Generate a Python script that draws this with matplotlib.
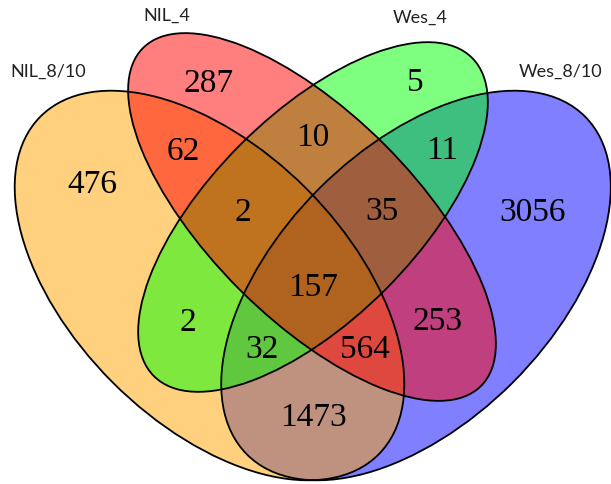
import matplotlib
matplotlib.use("Agg")
import matplotlib.pyplot as plt
from matplotlib.patches import Ellipse

# Set names and colours
set_names = ["NIL_8/10", "NIL_4", "Wes_4", "Wes_8/10"]
set_colors = ["#FFA500", "#FF0000", "#00FF00", "#0000FF"]

# Region codes: which sets (in set_names order) a region belongs to
region_codes = ["1000", "0100", "0010", "0001",
                "1100", "0110", "0011", "0101", "1010", "1001",
                "1110", "0111", "1011", "1101", "1111"]
region_counts = [476, 287, 5, 3056,
                 62, 10, 11, 253, 2, 1473,
                 2, 35, 32, 564, 157]

# ---- layout (pixel space of a 611 x 484 canvas) ----
W, H = 611, 484
# (centre x, centre y, semi-major, semi-minor, angle) per set
shapes = {
    "NIL_8/10": (209.5, 285.5, 239, 137, 45),
    "NIL_4":    (312.0, 217.0, 239, 102.5, 45),
    "Wes_4":    (313.0, 217.0, 225, 102.5, -45),
    "Wes_8/10": (416.0, 285.5, 239, 137, -45),
}
fill_order = ["Wes_8/10", "NIL_8/10", "Wes_4", "NIL_4"]

count_pos = {
    "1000": (92, 185), "0100": (209, 84), "0010": (415, 83), "0001": (533, 213),
    "1100": (183, 152), "0110": (313, 138), "0011": (442, 151), "0101": (437, 322),
    "1010": (188, 323), "1001": (313, 418),
    "1110": (243, 213), "0111": (382, 212), "1011": (262, 350), "1101": (365, 350),
    "1111": (313, 288),
}
name_pos = {
    "NIL_8/10": (48, 72), "NIL_4": (167, 16), "Wes_4": (420, 18), "Wes_8/10": (561, 72),
}

fig = plt.figure(figsize=(W / 100, H / 100), dpi=100)
ax = fig.add_axes([0, 0, 1, 1])
ax.set_xlim(0, W)
ax.set_ylim(H, 0)
ax.axis("off")

color_of = dict(zip(set_names, set_colors))

# translucent fills
for name in fill_order:
    cx, cy, a, b, ang = shapes[name]
    ax.add_patch(Ellipse((cx, cy), 2 * a, 2 * b, angle=ang,
                         facecolor=color_of[name], alpha=0.5, edgecolor="none"))
# outlines on top
for name in set_names:
    cx, cy, a, b, ang = shapes[name]
    ax.add_patch(Ellipse((cx, cy), 2 * a, 2 * b, angle=ang,
                         facecolor="none", edgecolor="black", lw=1.3))

for code, n in zip(region_codes, region_counts):
    x, y = count_pos[code]
    ax.text(x, y, str(n), ha="center", va="center", fontsize=24,
            family="Liberation Serif", color="black")

for name in set_names:
    x, y = name_pos[name]
    ax.text(x, y, name, ha="center", va="center", fontsize=13,
            family="Lato", color="#222222")

fig.savefig("out.png", dpi=100)
